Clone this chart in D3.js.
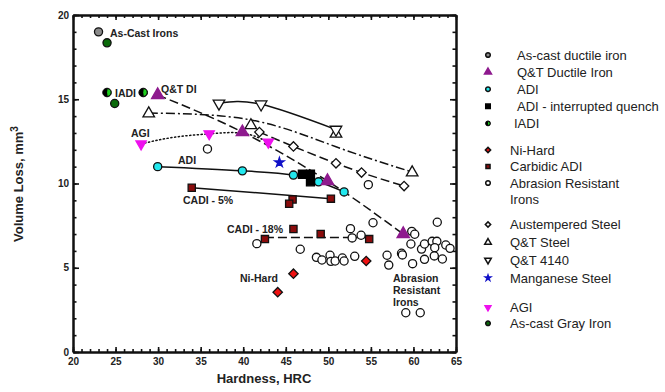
<!DOCTYPE html>
<html>
<head>
<meta charset="utf-8">
<script src="https://cdn.jsdelivr.net/npm/d3@7"></script>
<style>
  body { margin: 0; background: #fff; }
  svg { font-family: "Liberation Sans", Arial, sans-serif; }
</style>
</head>
<body>
<svg id="chart" width="665" height="392"></svg>
<script>
// data: [HRC, volume loss mm3]
const asCastDuctile = [[23.0, 19.0]]
const asCastGray = [[24.0, 18.35], [24.9, 14.75]]
const iadi = [[24.0, 15.4], [28.25, 15.4]]
const qtDuctile = [[29.95, 15.25], [39.9, 13.05], [49.9, 10.15], [58.8, 7.0]]
const qtSteel = [[28.9, 14.15], [40.9, 13.45], [50.9, 12.95], [59.85, 10.65]]
const qtSteelFit = [[28.9, 14.18], [40.9, 13.77], [50.9, 12.18], [59.85, 10.68]]
const qt4140 = [[37.15, 14.75], [42.1, 14.7], [50.9, 13.2]]
const austSteel = [[41.9, 13.05], [45.9, 12.2], [50.9, 11.2], [53.9, 10.65], [58.9, 9.85]]
const adi = [[29.95, 11.0], [39.9, 10.75], [45.9, 10.5], [48.85, 10.1], [51.85, 9.5]]
const adiIq = [[46.95, 10.55], [47.9, 10.55], [47.9, 10.1]]
const mnSteel = [[44.25, 11.25]]
const agi = [[28.0, 12.35], [36.0, 12.95], [42.95, 12.45]]
const agiFit = [[28.0, 12.35], [31.8, 12.74], [36.0, 12.95], [40.0, 12.98], [42.95, 12.45]]
const cadi5 = [[33.95, 9.75], [45.8, 9.05], [45.4, 8.8], [50.3, 9.1]]
const cadi5Fit = [[33.95, 9.75], [50.3, 9.1]]
const cadi18 = [[42.55, 6.7], [45.9, 7.3], [49.1, 7.0], [54.8, 6.7]]
const cadi18Fit = [[42.55, 6.8], [54.8, 6.8]]
const niHard = [[44.05, 3.55], [45.9, 4.65], [54.45, 5.4]]
const abrasionIrons = [
  [35.8, 12.05], [41.6, 6.43], [46.7, 6.1], [48.6, 5.62], [49.25, 5.46], [50.2, 5.74],
  [50.3, 5.38], [50.8, 5.4], [51.65, 5.58], [51.85, 5.4], [53.1, 5.68], [52.6, 7.32],
  [53.85, 6.93], [52.8, 6.77], [54.7, 9.93], [55.25, 7.67], [59.8, 7.16], [60.15, 6.99],
  [59.7, 6.41], [58.6, 5.86], [58.7, 5.76], [56.9, 5.74], [57.1, 5.16], [59.9, 5.24],
  [61.3, 5.5], [60.95, 6.11], [61.3, 6.41], [62.2, 6.57], [62.75, 6.57], [62.5, 6.19],
  [62.45, 5.7], [63.4, 5.52], [63.8, 6.35], [64.3, 6.15], [62.8, 7.7], [59.1, 2.33],
  [60.8, 2.33]
]

const xTicks = [20, 25, 30, 35, 40, 45, 50, 55, 60, 65]
const yTicks = [0, 5, 10, 15, 20]

const legendNames = [
  ["As-cast ductile iron", "Q&T Ductile Iron", "ADI", "ADI - interrupted quench", " IADI"],
  ["Ni-Hard", "Carbidic ADI", "Abrasion Resistant|Irons"],
  ["Austempered Steel", "Q&T Steel", "Q&T 4140", "Manganese Steel"],
  ["AGI", "As-cast Gray Iron"]
]

const svg = d3.select("#chart")
const x = d3.scaleLinear().domain([20, 65]).range([73, 456])
const y = d3.scaleLinear().domain([0, 20]).range([352, 15])

// symbol painters
const sym = {
  circle: {type: d3.symbolCircle, size: 52, rot: 0},
  triUp: {type: d3.symbolTriangle, size: 58, rot: 0},
  triDown: {type: d3.symbolTriangle, size: 58, rot: 180},
  square: {type: d3.symbolSquare, size: 64, rot: 0},
  diamond: {type: d3.symbolSquare, size: 44, rot: 45},
  star: {type: d3.symbolStar, size: 28, rot: 0}
}
const styles = {
  asCastDuctile: {s: "circle", fill: "#8a8a8a", stroke: "#111"},
  qtDuctile: {s: "triUp", fill: "#8e1a8e", stroke: "#8e1a8e", size: 66},
  adi: {s: "circle", fill: "#22e8ee", stroke: "#111"},
  adiIq: {s: "square", fill: "#000", stroke: "#000"},
  iadi: {s: "half"},
  niHard: {s: "diamond", fill: "#ee1111", stroke: "#111"},
  cadi: {s: "square", fill: "#8a0c0c", stroke: "#111", size: 52},
  abrasion: {s: "circle", fill: "#fff", stroke: "#111"},
  aust: {s: "diamond", fill: "#fff", stroke: "#111"},
  qtSteel: {s: "triUp", fill: "#fff", stroke: "#111"},
  qt4140: {s: "triDown", fill: "#fff", stroke: "#111"},
  mn: {s: "star", fill: "#1010c8", stroke: "#1010c8"},
  agi: {s: "triDown", fill: "#ee10ee", stroke: "#ee10ee", size: 46},
  gray: {s: "circle", fill: "#0a6a0a", stroke: "#111"}
}

function drawMark(g, cx, cy, st, scale) {
  scale = scale || 1
  if (st.s === "half") {
    const r = 4.3 * Math.sqrt(scale)
    g.append("circle").attr("cx", cx).attr("cy", cy).attr("r", r)
      .attr("fill", "#000").attr("stroke", "#000").attr("stroke-width", 1)
    g.append("path")
      .attr("d", d3.arc()({innerRadius: 0, outerRadius: Math.max(r - 0.8, 1.5), startAngle: 0.15, endAngle: Math.PI - 0.15}))
      .attr("transform", `translate(${cx},${cy})`)
      .attr("fill", "#1fd01f")
    return
  }
  const base = sym[st.s]
  g.append("path")
    .attr("d", d3.symbol().type(base.type).size((st.size || base.size) * scale)())
    .attr("transform", `translate(${cx},${cy}) rotate(${base.rot})`)
    .attr("fill", st.fill)
    .attr("stroke", st.stroke)
    .attr("stroke-width", scale < 1 ? 1.5 : 1.3)
}

// axes: ticks point into the plot, minor ticks every unit
const axG = svg.append("g")
function axisPair(axisFn, scale, t, majors, minors, majorLen, minorLen, labels) {
  axG.append("g").attr("transform", t)
    .call(axisFn(scale).tickValues(minors).tickSize(minorLen).tickSizeOuter(0).tickFormat(""))
  const a = axG.append("g").attr("transform", t)
    .call(axisFn(scale).tickValues(majors).tickSize(majorLen).tickSizeOuter(0)
      .tickFormat(labels ? d3.format("d") : ""))
  return a
}
const xMinor = d3.range(20, 66), yMinor = d3.range(0, 21)
const bottom = axisPair(d3.axisBottom, x, "translate(0,352)", xTicks, xMinor, -5, -3, true)
axisPair(d3.axisTop, x, "translate(0,15)", xTicks, xMinor, -5, -3, false)
const left = axisPair(d3.axisLeft, y, "translate(73,0)", yTicks, yMinor, -6, -3.5, true)
axisPair(d3.axisRight, y, "translate(456,0)", yTicks, yMinor, -6, -3.5, false)
axG.selectAll(".domain").attr("stroke", "#111").attr("stroke-width", 2)
axG.selectAll(".tick line").attr("stroke", "#111").attr("stroke-width", 1.6)
bottom.selectAll("text").attr("y", 6).attr("font-size", 10).attr("font-weight", "bold")
  .attr("fill", "#222").attr("font-family", "Liberation Sans, Arial, sans-serif")
left.selectAll("text").attr("x", -4).attr("font-size", 10).attr("font-weight", "bold")
  .attr("fill", "#222").attr("font-family", "Liberation Sans, Arial, sans-serif")

// axis titles
svg.append("text").attr("x", 264).attr("y", 383).attr("text-anchor", "middle")
  .attr("font-size", 13).attr("font-weight", "bold").attr("fill", "#222").text("Hardness, HRC")
const yt = svg.append("text").attr("transform", "translate(23,184) rotate(-90)")
  .attr("text-anchor", "middle").attr("font-size", 13).attr("font-weight", "bold").attr("fill", "#222")
yt.append("tspan").text("Volume Loss, mm")
yt.append("tspan").attr("dy", -5).attr("font-size", 10).text("3")

// trend lines
const lineG = svg.append("g").attr("fill", "none").attr("stroke", "#111").attr("stroke-width", 1.5)
function trend(pts, curve, dash) {
  lineG.append("path")
    .attr("d", d3.line().x(d => x(d[0])).y(d => y(d[1])).curve(curve)(pts))
    .attr("stroke-dasharray", dash || null)
    .attr("stroke-linecap", dash === "1.2,2.6" ? "round" : "butt")
}
trend(qtDuctile, d3.curveMonotoneX, "9,4")
trend(qtSteelFit, d3.curveNatural, "9,3,2,3")
trend(qt4140, d3.curveNatural)
trend(austSteel, d3.curveMonotoneX, "9,4")
trend(adi, d3.curveMonotoneX)
trend(agiFit, d3.curveNatural, "1.2,2.6")
trend(cadi5Fit, d3.curveLinear)
trend(cadi18Fit, d3.curveLinear, "9,4")

// marks
const markG = svg.append("g")
function series(pts, st) { pts.forEach(d => drawMark(markG, x(d[0]), y(d[1]), st)) }
series(abrasionIrons, styles.abrasion)
series(austSteel, styles.aust)
series(qtSteel, styles.qtSteel)
series(qt4140, styles.qt4140)
series(adi, styles.adi)
series(adiIq, styles.adiIq)
series(cadi5, styles.cadi)
series(cadi18, styles.cadi)
series(niHard, styles.niHard)
series(agi, styles.agi)
series(qtDuctile, styles.qtDuctile)
series(mnSteel, styles.mn)
series(asCastDuctile, styles.asCastDuctile)
series(asCastGray, styles.gray)
series(iadi, styles.iadi)

// in-plot labels
const labG = svg.append("g").attr("font-size", 10.5).attr("font-weight", "bold").attr("fill", "#222")
const notes = [
  ["As-Cast Irons", 110, 36.7], ["IADI", 115, 97], ["Q&T DI", 161, 92.5], ["AGI", 131, 137],
  ["ADI", 178, 164], ["CADI - 5%", 183, 204], ["CADI - 18%", 227, 233], ["Ni-Hard", 240, 282],
  ["Abrasion", 393, 281.5], ["Resistant", 393, 293.5], ["Irons", 393, 305.5]
]
notes.forEach(n => labG.append("text").attr("x", n[1]).attr("y", n[2]).text(n[0]))

// legend
const legendStyles = [
  [styles.asCastDuctile, styles.qtDuctile, styles.adi, styles.adiIq, styles.iadi],
  [styles.niHard, styles.cadi, styles.abrasion],
  [styles.aust, styles.qtSteel, styles.qt4140, styles.mn],
  [styles.agi, styles.gray]
]
const lg = svg.append("g").attr("font-size", 13).attr("fill", "#222")
const groupStart = [55, 150, 224.5, 307.5]
const groupStep = [17.1, 16.5, 17.8, 15.8]
legendNames.forEach((grp, gi) => {
  grp.forEach((name, i) => {
    const yy = groupStart[gi] + i * groupStep[gi]
    drawMark(lg, 488, yy, legendStyles[gi][i], 0.32)
    const tx = gi === 0 ? 517 : 510
    name.split("|").forEach((line, li) => {
      lg.append("text").attr("x", tx - (line.startsWith(" ") ? 3 : 0)).attr("y", yy + li * 16)
        .attr("dy", "0.36em").text(line.trim())
    })
  })
})
</script>
</body>
</html>
